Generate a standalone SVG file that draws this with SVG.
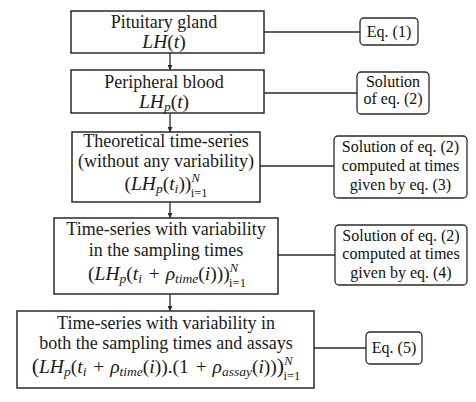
<svg xmlns="http://www.w3.org/2000/svg" width="476" height="402" viewBox="0 0 476 402">
<defs>
<style>
.box{fill:#fff;stroke:#2a2a2a;stroke-width:1.5}
.side{fill:#fff;stroke:#2a2a2a;stroke-width:1.3}
.ln{fill:none;stroke:#2a2a2a;stroke-width:1.3}
.t{font-family:'Liberation Serif','DejaVu Serif',serif;font-size:18px;fill:#1a1a1a;text-anchor:middle}
.m{font-size:19.5px}
.st{font-family:'Liberation Serif','DejaVu Serif',serif;font-size:16px;fill:#111;text-anchor:middle}
.i{font-style:italic}
.s{font-size:13.5px}
.sc{font-size:12.5px}
.big{font-size:22px}
</style>
<marker id="arr" viewBox="0 0 10 10" refX="10" refY="5" markerWidth="5" markerHeight="5" orient="auto" markerUnits="userSpaceOnUse">
<path d="M0,0 L10,5 L0,10 z" fill="#2a2a2a"/>
</marker>
</defs>
<rect width="476" height="402" fill="#fff"/>

<g id="connectors">
<line class="ln" x1="170" y1="53" x2="170" y2="70" marker-end="url(#arr)"/>
<line class="ln" x1="170" y1="113" x2="170" y2="132" marker-end="url(#arr)"/>
<line class="ln" x1="170" y1="202" x2="170" y2="218" marker-end="url(#arr)"/>
<line class="ln" x1="170" y1="294" x2="170" y2="311" marker-end="url(#arr)"/>
<line class="ln" x1="264" y1="32" x2="360" y2="32"/>
<line class="ln" x1="264" y1="93" x2="357" y2="93"/>
<line class="ln" x1="260" y1="166" x2="334" y2="166"/>
<line class="ln" x1="278" y1="255" x2="335" y2="255"/>
<line class="ln" x1="314" y1="348" x2="366" y2="348"/>
</g>

<g id="n1">
<rect class="box" x="71" y="11" width="193" height="42"/>
<text class="t" x="164" y="28">Pituitary gland</text>
<text class="t m" x="164" y="48"><tspan class="i">LH</tspan>(<tspan class="i">t</tspan>)</text>
</g>

<g id="n2">
<rect class="box" x="71" y="70" width="193" height="43"/>
<text class="t" x="164" y="88">Peripheral blood</text>
<text class="t m" x="164" y="108"><tspan class="i">LH</tspan><tspan class="i s" dy="3">p</tspan><tspan dy="-3">(</tspan><tspan class="i">t</tspan>)</text>
</g>

<g id="n3">
<rect class="box" x="72" y="132" width="188" height="70"/>
<text class="t" x="166" y="147">Theoretical time-series</text>
<text class="t" x="166" y="167">(without any variability)</text>
<text class="t m" x="166" y="190">(<tspan class="i">LH</tspan><tspan class="i s" dy="3">p</tspan><tspan dy="-3">(</tspan><tspan class="i">t</tspan><tspan class="i s" dy="3">i</tspan><tspan dy="-3">))</tspan><tspan class="i sc" dy="-8">N</tspan><tspan class="sc" dx="-9" dy="15">i=1</tspan></text>
</g>

<g id="n4">
<rect class="box" x="54" y="218" width="224" height="76"/>
<text class="t" x="166" y="235">Time-series with variability</text>
<text class="t" x="166" y="256">in the sampling times</text>
<text class="t m" x="167" y="280">(<tspan class="i">LH</tspan><tspan class="i s" dy="3">p</tspan><tspan dy="-3">(</tspan><tspan class="i">t</tspan><tspan class="i s" dy="3">i</tspan><tspan dy="-3" dx="2"> + </tspan><tspan class="i" dx="1">ρ</tspan><tspan class="i s" dy="3">time</tspan><tspan dy="-3">(</tspan><tspan class="i">i</tspan>)))<tspan class="i sc" dy="-8">N</tspan><tspan class="sc" dx="-9" dy="15">i=1</tspan></text>
</g>

<g id="n5">
<rect class="box" x="17" y="311" width="297" height="77"/>
<text class="t" x="166" y="329">Time-series with variability in</text>
<text class="t" x="166" y="349">both the sampling times and assays</text>
<text class="t m" x="166" y="373"><tspan class="big">(</tspan><tspan class="i">LH</tspan><tspan class="i s" dy="3">p</tspan><tspan dy="-3">(</tspan><tspan class="i">t</tspan><tspan class="i s" dy="3">i</tspan><tspan dy="-3" dx="2"> + </tspan><tspan class="i" dx="1">ρ</tspan><tspan class="i s" dy="3">time</tspan><tspan dy="-3">(</tspan><tspan class="i">i</tspan>)).(1<tspan dx="2"> + </tspan><tspan class="i" dx="1">ρ</tspan><tspan class="i s" dy="3">assay</tspan><tspan dy="-3">(</tspan><tspan class="i">i</tspan>))<tspan class="big">)</tspan><tspan class="i sc" dy="-8">N</tspan><tspan class="sc" dx="-9" dy="15">i=1</tspan></text>
</g>

<g id="s1">
<rect class="side" x="360" y="18" width="58" height="27" rx="4"/>
<text class="st" x="389" y="37">Eq. (1)</text>
</g>

<g id="s2">
<rect class="side" x="357" y="72" width="72" height="42" rx="4"/>
<text class="st" x="393" y="87">Solution</text>
<text class="st" x="393" y="104">of eq. (2)</text>
</g>

<g id="s3">
<rect class="side" x="334" y="136" width="133" height="62" rx="4"/>
<text class="st" x="400.5" y="152">Solution of eq. (2)</text>
<text class="st" x="400.5" y="171">computed at times</text>
<text class="st" x="400.5" y="190">given by eq. (3)</text>
</g>

<g id="s4">
<rect class="side" x="335" y="225" width="132" height="60" rx="4"/>
<text class="st" x="401" y="241">Solution of eq. (2)</text>
<text class="st" x="401" y="259">computed at times</text>
<text class="st" x="401" y="278">given by eq. (4)</text>
</g>

<g id="s5">
<rect class="side" x="366" y="332" width="56" height="32" rx="4"/>
<text class="st" x="394" y="353">Eq. (5)</text>
</g>
</svg>
